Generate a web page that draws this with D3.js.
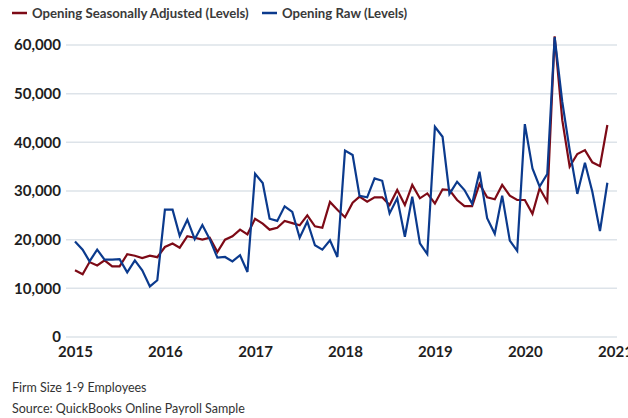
<!DOCTYPE html>
<html>
<head>
<meta charset="utf-8">
<script src="https://cdn.jsdelivr.net/npm/d3@7"></script>
<style>
  html, body { margin: 0; padding: 0; background: #fff; }
  svg { display: block; font-family: Lato, "Open Sans", sans-serif; }
</style>
</head>
<body>
<svg id="chart" width="628" height="418"></svg>
<script>
// Monthly openings, Jan 2015 – Dec 2020
const startYear = 2015;
const seasonallyAdjusted = [
  13700, 12900, 15400, 14700, 15750, 14500, 14500, 17000, 16700, 16200, 16700, 16400,
  18500, 19200, 18350, 20700, 20400, 20000, 20400, 17450, 20000, 20700, 22050, 21100,
  24300, 23300, 22050, 22450, 23850, 23400, 22950, 25000, 22750, 22450, 27750, 26150,
  24600, 27600, 28850, 27800, 28700, 28700, 27100, 30200, 27100, 31250, 28500, 29500,
  27450, 30350, 30200, 28150, 26900, 26900, 31450, 28700, 28300, 31250, 29050, 28150,
  28150, 25300, 30550, 27800, 61800, 44550, 35000, 37600, 38400, 35900, 35100, 43550
];
const raw = [
  19600, 17950, 15550, 17950, 15900, 15900, 16000, 13300, 15750, 13700, 10400, 11650,
  26160, 26160, 20800, 24100, 20100, 23000, 20100, 16300, 16450, 15550, 16800, 13350,
  33550, 31650, 24300, 23850, 26850, 25700, 20400, 23750, 18850, 17950, 19850, 16450,
  38300, 37400, 29000, 28700, 32600, 32100, 25400, 28500, 20600, 28850, 19250, 17050,
  43200, 41150, 29400, 31900, 30200, 27400, 33950, 24400, 21200, 29050, 19800, 17700,
  43750, 34650, 30900, 33500, 61600, 48300, 38400, 29400, 35800, 29850, 21750, 31700
];
const seriesNames = ["Opening Seasonally Adjusted (Levels)", "Opening Raw (Levels)"];
const seriesColors = ["#7d0a16", "#0b3a8d"];
const yTicks = [0, 10000, 20000, 30000, 40000, 50000, 60000];
const yearTicks = [2015, 2016, 2017, 2018, 2019, 2020, 2021];
const footnotes = ["Firm Size 1-9 Employees", "Source: QuickBooks Online Payroll Sample"];

const months = raw.map((_, i) => new Date(startYear, i, 1));

const svg = d3.select("#chart");

const x = d3.scaleTime()
  .domain([new Date(2015, 0, 1), new Date(2021, 0, 1)])
  .range([75, 615]);
const y = d3.scaleLinear().domain([0, 60000]).range([337, 45]);

// horizontal gridlines
svg.append("g")
  .selectAll("line")
  .data(yTicks)
  .join("line")
  .attr("x1", 66).attr("x2", 617)
  .attr("y1", d => y(d)).attr("y2", d => y(d))
  .attr("stroke", "#dde3e9")
  .attr("stroke-width", 1.5);

// y axis labels
const yAxis = svg.append("g")
  .attr("transform", "translate(61,0)")
  .call(d3.axisLeft(y).tickValues(yTicks).tickFormat(d3.format(",")).tickSize(0).tickPadding(0));
yAxis.select(".domain").remove();
yAxis.selectAll("text")
  .attr("font-family", "Lato, sans-serif")
  .attr("font-size", 15)
  .attr("font-weight", 700)
  .attr("fill", "#1e1e1e");

// x axis labels (the last year runs off the right edge)
const xAxis = svg.append("g")
  .attr("transform", "translate(0,346)")
  .call(d3.axisBottom(x)
    .tickValues(yearTicks.map(yr => new Date(yr, 0, 1)))
    .tickFormat(d3.timeFormat("%Y"))
    .tickSize(0).tickPadding(0));
xAxis.select(".domain").remove();
xAxis.selectAll("text")
  .attr("font-family", "Lato, sans-serif")
  .attr("font-size", 15)
  .attr("font-weight", 700)
  .attr("fill", "#1e1e1e");

// series lines
const line = d3.line()
  .x((d, i) => x(months[i]))
  .y(d => y(d));

[seasonallyAdjusted, raw].forEach((vals, k) => {
  svg.append("path")
    .datum(vals)
    .attr("fill", "none")
    .attr("stroke", seriesColors[k])
    .attr("stroke-width", 2.2)
    .attr("stroke-linejoin", "miter")
    .attr("d", line);
});

// legend
const legend = svg.append("g").attr("transform", "translate(0,13)");
const legendX = [12, 262];
seriesNames.forEach((name, k) => {
  const g = legend.append("g").attr("transform", `translate(${legendX[k]},0)`);
  g.append("line")
    .attr("x1", 0).attr("x2", 15)
    .attr("stroke", seriesColors[k]).attr("stroke-width", 2.5);
  g.append("text")
    .attr("x", 20).attr("dy", "0.35em")
    .attr("font-size", 13.2).attr("font-weight", 700)
    .attr("fill", "#3a3a3a")
    .text(name);
});

// footnotes
svg.append("g")
  .selectAll("text")
  .data(footnotes)
  .join("text")
  .attr("x", 12)
  .attr("y", (d, i) => 392 + i * 21)
  .attr("font-size", 12.5)
  .attr("font-weight", 400)
  .attr("fill", "#333")
  .text(d => d);
</script>
</body>
</html>
